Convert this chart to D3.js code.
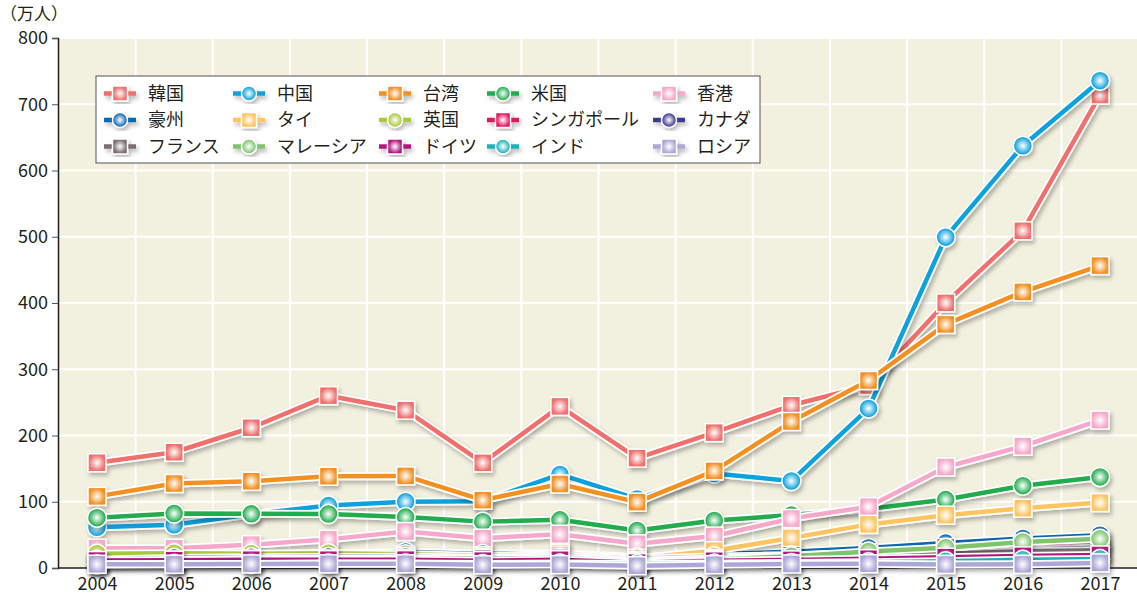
<!DOCTYPE html>
<html>
<head>
<meta charset="utf-8">
<script src="https://cdn.jsdelivr.net/npm/d3@7"></script>
<style>
  body { margin: 0; background: #fff; }
  text { font-family: "Noto Sans CJK JP", "Noto Sans", sans-serif; fill: #231f20; }
</style>
</head>
<body>
<script>
'use strict';

var width = 1137;
var height = 603;

var years = [2004, 2005, 2006, 2007, 2008, 2009, 2010, 2011, 2012, 2013, 2014, 2015, 2016, 2017];
var yTicks = [0, 100, 200, 300, 400, 500, 600, 700, 800];

var names = ['韓国', '中国', '台湾', '米国', '香港', '豪州', 'タイ', '英国', 'シンガポール', 'カナダ', 'フランス', 'マレーシア', 'ドイツ', 'インド', 'ロシア'];
var colors = ['#ef6f6c', '#0ca2dd', '#f39022', '#23ac4e', '#f5a8c9', '#0b67b0', '#fec45e', '#a9c93b', '#e2195b', '#3d3a8e', '#7b6d72', '#80c56d', '#b3177f', '#1db3b8', '#aca7d6'];
var shapes = ['square', 'circle', 'square', 'circle', 'square', 'circle', 'square', 'circle', 'square', 'circle', 'square', 'circle', 'square', 'circle', 'square'];

var korea     = [158.9, 174.7, 211.7, 260.1, 238.2, 158.7, 243.9, 165.8, 204.3, 245.6, 275.5, 400.2, 509.0, 714.0];
var china     = [61.6, 65.3, 81.2, 94.2, 100.0, 100.6, 141.3, 104.3, 142.5, 131.4, 240.9, 499.4, 637.4, 735.6];
var taiwan    = [108.1, 127.5, 130.9, 138.5, 139.0, 102.4, 126.8, 99.4, 146.6, 221.1, 283.0, 367.7, 416.8, 456.4];
var usa       = [76.0, 82.2, 81.7, 81.6, 76.8, 70.0, 72.7, 56.6, 71.7, 79.9, 89.2, 103.3, 124.3, 137.5];
var hongkong  = [30.0, 29.9, 35.2, 43.2, 55.0, 45.0, 50.9, 36.5, 48.2, 74.6, 92.6, 152.4, 183.9, 223.2];
var australia = [19.4, 20.6, 19.5, 22.3, 24.2, 21.2, 22.6, 16.3, 20.6, 24.5, 30.3, 37.6, 44.5, 49.5];
var thailand  = [10.5, 12.0, 12.6, 16.7, 19.2, 17.8, 21.5, 14.5, 26.1, 45.4, 65.8, 79.7, 90.2, 98.7];
var uk        = [21.5, 22.2, 21.6, 22.2, 20.7, 18.2, 18.4, 14.0, 17.4, 19.2, 22.0, 25.8, 29.2, 31.0];
var singapore = [9.0, 9.4, 11.5, 15.2, 16.8, 14.5, 18.1, 11.1, 14.2, 18.9, 22.8, 30.9, 36.2, 40.4];
var canada    = [12.3, 15.0, 16.2, 16.6, 16.8, 15.3, 15.3, 10.1, 13.6, 15.3, 18.3, 23.1, 27.3, 30.6];
var france    = [9.6, 11.9, 13.5, 13.7, 14.8, 14.1, 15.1, 9.5, 13.0, 15.5, 17.9, 21.4, 25.3, 26.9];
var malaysia  = [7.2, 7.8, 8.5, 10.1, 10.6, 8.9, 11.5, 8.2, 13.0, 17.7, 25.0, 30.5, 39.4, 44.0];
var germany   = [11.2, 11.8, 12.5, 12.5, 12.6, 11.1, 12.4, 8.1, 10.9, 12.2, 14.0, 16.3, 18.3, 19.6];
var india     = [5.3, 5.9, 6.2, 6.7, 6.7, 5.9, 6.7, 5.9, 6.9, 7.5, 8.8, 10.3, 12.3, 13.4];
var russia    = [5.6, 5.6, 6.2, 6.3, 6.4, 4.8, 5.1, 3.4, 5.0, 6.1, 6.4, 5.4, 5.5, 7.7];

var values = [korea, china, taiwan, usa, hongkong, australia, thailand, uk, singapore, canada, france, malaysia, germany, india, russia];

var series = names.map(function (n, i) {
  return { name: n, color: colors[i], shape: shapes[i], values: values[i], id: i };
});

var plotLeft = 58, plotRight = 1137, plotTop = 38, plotBottom = 568;

var x = d3.scalePoint().domain(years).range([97, 1100]);
var y = d3.scaleLinear().domain([0, 800]).range([plotBottom, plotTop]);

var svg = d3.select('body').append('svg').attr('width', width).attr('height', height);
var defs = svg.append('defs');

var shadow = defs.append('filter').attr('id', 'shadow')
  .attr('x', '-20%').attr('y', '-20%').attr('width', '140%').attr('height', '140%');
shadow.append('feDropShadow').attr('dx', 2).attr('dy', 3).attr('stdDeviation', 2)
  .attr('flood-color', '#000').attr('flood-opacity', 0.28);

series.forEach(function (s) {
  var g = defs.append('radialGradient').attr('id', 'grad' + s.id)
    .attr('cx', '50%').attr('cy', '50%').attr('r', '60%');
  g.append('stop').attr('offset', '0%').attr('stop-color', '#fff');
  g.append('stop').attr('offset', '75%').attr('stop-color', s.color);
});

// plot background
svg.append('rect').attr('x', plotLeft).attr('y', plotTop)
  .attr('width', plotRight - plotLeft).attr('height', plotBottom - plotTop)
  .attr('fill', '#f2f0df');

// grid
svg.append('g').selectAll('line').data(yTicks.slice(1)).enter().append('line')
  .attr('x1', plotLeft).attr('x2', plotRight)
  .attr('y1', function (d) { return y(d); }).attr('y2', function (d) { return y(d); })
  .attr('stroke', '#fff').attr('stroke-width', 2);

var step = x.step();
svg.append('g').selectAll('line').data(years.slice(1)).enter().append('line')
  .attr('x1', function (d) { return x(d) - step / 2; }).attr('x2', function (d) { return x(d) - step / 2; })
  .attr('y1', plotTop).attr('y2', plotBottom)
  .attr('stroke', '#fff').attr('stroke-width', 2);

// axes
var yAxis = svg.append('g').attr('transform', 'translate(' + plotLeft + ',0)')
  .call(d3.axisLeft(y).tickValues(yTicks).tickSize(6).tickPadding(4));
yAxis.select('.domain').attr('stroke', '#231f20').attr('stroke-width', 1.5);
yAxis.selectAll('.tick line').attr('stroke', '#555');
yAxis.selectAll('.tick text').style('font-size', '18px').attr('fill', '#231f20');

var xAxis = svg.append('g').attr('transform', 'translate(0,' + plotBottom + ')')
  .call(d3.axisBottom(x).tickSize(0).tickPadding(9).tickFormat(d3.format('d')));
xAxis.select('.domain').remove();
xAxis.selectAll('.tick text').style('font-size', '18px').attr('fill', '#231f20');

svg.append('line').attr('x1', plotLeft).attr('x2', plotRight).attr('y1', plotBottom).attr('y2', plotBottom)
  .attr('stroke', '#231f20').attr('stroke-width', 1.5);

svg.append('text').attr('x', 0).attr('y', 20).style('font-size', '17px').text('（万人）');

// series
var line = d3.line()
  .x(function (d, i) { return x(years[i]); })
  .y(function (d) { return y(d); });

function drawMarker(g, shape, id, cx, cy, size) {
  if (shape === 'square') {
    g.append('rect').attr('x', cx - size / 2).attr('y', cy - size / 2)
      .attr('width', size).attr('height', size)
      .attr('fill', 'url(#grad' + id + ')').attr('stroke', '#fff').attr('stroke-width', 1.5);
  } else {
    g.append('circle').attr('cx', cx).attr('cy', cy).attr('r', size / 2)
      .attr('fill', 'url(#grad' + id + ')').attr('stroke', '#fff').attr('stroke-width', 1.5);
  }
}

var plot = svg.append('g');
series.forEach(function (s) {
  var g = plot.append('g').attr('filter', 'url(#shadow)');
  g.append('path').datum(s.values).attr('d', line)
    .attr('fill', 'none').attr('stroke', '#fff').attr('stroke-width', 8).attr('stroke-linejoin', 'round');
  g.append('path').datum(s.values).attr('d', line)
    .attr('fill', 'none').attr('stroke', s.color).attr('stroke-width', 4.5).attr('stroke-linejoin', 'round');
  s.values.forEach(function (v, i) {
    drawMarker(g, s.shape, s.id, x(years[i]), y(v), s.shape === 'square' ? 18 : 19);
  });
});

// legend
var legend = svg.append('g');
legend.append('rect').attr('x', 96).attr('y', 76).attr('width', 664).attr('height', 87)
  .attr('fill', '#fff').attr('stroke', '#555').attr('stroke-width', 1);

var colX = [120, 249, 395, 503, 669];
var rowY = [93.5, 120, 146.5];
series.forEach(function (s, i) {
  var cx = colX[i % 5], cy = rowY[Math.floor(i / 5)];
  var g = legend.append('g').attr('filter', 'url(#shadow)');
  g.append('line').attr('x1', cx - 16).attr('x2', cx + 16).attr('y1', cy).attr('y2', cy)
    .attr('stroke', s.color).attr('stroke-width', 4.5);
  drawMarker(g, s.shape, s.id, cx, cy, 15);
  legend.append('text').attr('x', cx + 28).attr('y', cy).attr('dy', '0.36em')
    .style('font-size', '18px').text(s.name);
});
</script>
</body>
</html>
